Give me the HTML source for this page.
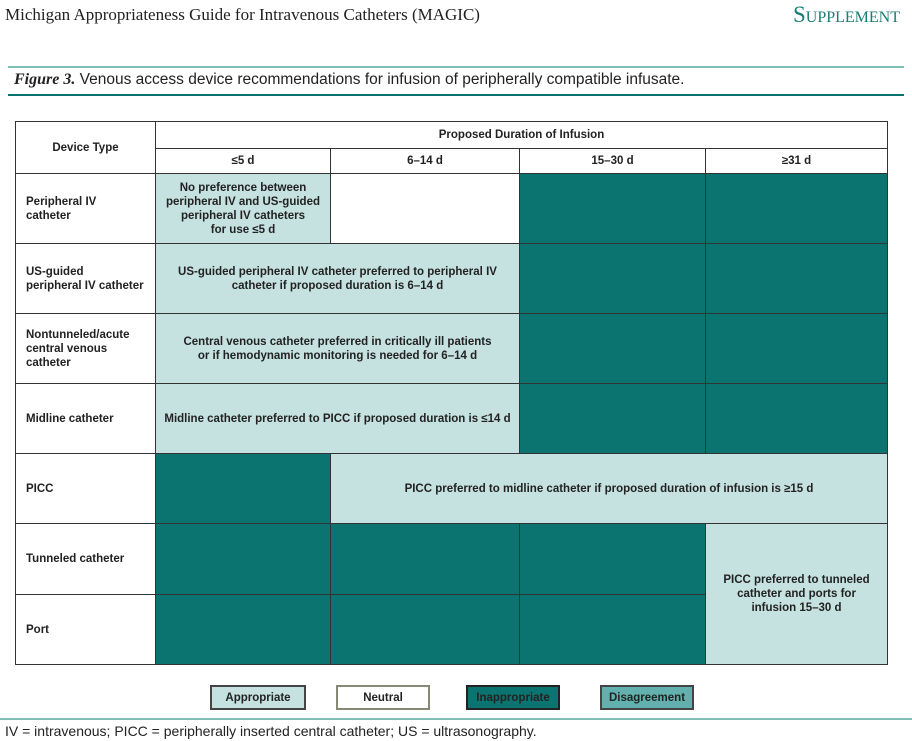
<!DOCTYPE html>
<html><head><meta charset="utf-8"><style>
body{margin:0;width:912px;height:741px;background:#fff;position:relative;overflow:hidden;font-family:"Liberation Sans",sans-serif}
.a{position:absolute;box-sizing:border-box}
.c{position:absolute;box-sizing:border-box;border:1px solid #333;display:flex;align-items:center;justify-content:center;text-align:center;font-size:11.5px;font-weight:bold;color:#222;line-height:14px}
.L{justify-content:flex-start;text-align:left;padding-left:10px}
.ap{background:#c5e2e0}.in{background:#0b7470}.ne{background:#fff}
</style></head><body>
<div class="a" style="left:5px;top:5px;font-family:'Liberation Serif',serif;font-size:17px;color:#222">Michigan Appropriateness Guide for Intravenous Catheters (MAGIC)</div>
<div class="a" style="right:12px;top:2px;font-family:'Liberation Serif',serif;font-size:23px;color:#1a7d73;font-variant:small-caps">Supplement</div>
<div class="a" style="left:8px;top:66px;width:896px;height:2px;background:#7fbfb8"></div>
<div class="a" style="left:14px;top:71px;font-size:15.5px;color:#222;white-space:nowrap"><i style="font-family:'Liberation Serif',serif;font-weight:bold;font-size:16px">Figure 3.</i> Venous access device recommendations for infusion of peripherally compatible infusate.</div>
<div class="a" style="left:8px;top:94px;width:896px;height:2px;background:#0b7470"></div>
<div id="t"></div>
<div class="c ap" style="left:210px;top:685px;width:96px;height:25px;border:2px solid #444">Appropriate</div>
<div class="c ne" style="left:336px;top:685px;width:94px;height:25px;border:2px solid #887">Neutral</div>
<div class="c" style="left:466px;top:685px;width:94px;height:25px;border:2px solid #222;background:#0b7470">Inappropriate</div>
<div class="c" style="left:600px;top:685px;width:94px;height:25px;border:2px solid #444;background:#62b1ae">Disagreement</div>
<div class="a" style="left:0;top:718px;width:912px;height:2px;background:#7fbfb8"></div>
<div class="a" style="left:5px;top:723px;font-size:14px;color:#222;white-space:nowrap">IV = intravenous; PICC = peripherally inserted central catheter; US = ultrasonography.</div>
<script>
const cols=[15,155,330,519,705,887];
const rows=[173,243,313,383,453,523,594,664];
const rowLabels=["Peripheral IV<br>catheter","US-guided<br>peripheral IV catheter","Nontunneled/acute<br>central venous<br>catheter","Midline catheter","PICC","Tunneled catheter","Port"];
const durations=["≤5 d","6–14 d","15–30 d","≥31 d"];
// cells: [row, colStart, colEnd, rowEnd, class, text]
const cells=[
[0,1,2,1,"ap","No preference between<br>peripheral IV and US-guided<br>peripheral IV catheters<br>for use ≤5 d"],
[0,2,3,1,"ne",""],[0,3,4,1,"in",""],[0,4,5,1,"in",""],
[1,1,3,2,"ap","US-guided peripheral IV catheter preferred to peripheral IV<br>catheter if proposed duration is 6–14 d"],
[1,3,4,2,"in",""],[1,4,5,2,"in",""],
[2,1,3,3,"ap","Central venous catheter preferred in critically ill patients<br>or if hemodynamic monitoring is needed for 6–14 d"],
[2,3,4,3,"in",""],[2,4,5,3,"in",""],
[3,1,3,4,"ap","Midline catheter preferred to PICC if proposed duration is ≤14 d"],
[3,3,4,4,"in",""],[3,4,5,4,"in",""],
[4,1,2,5,"in",""],[4,2,5,5,"ap","PICC preferred to midline catheter if proposed duration of infusion is ≥15 d"],
[5,1,2,6,"in",""],[5,2,3,6,"in",""],[5,3,4,6,"in",""],
[6,1,2,7,"in",""],[6,2,3,7,"in",""],[6,3,4,7,"in",""],
[5,4,5,7,"ap","PICC preferred to tunneled<br>catheter and ports for<br>infusion 15–30 d"]
];
const t=document.getElementById('t');
function box(x,y,w,h,cls,html,name){const d=document.createElement('div');d.className='c '+cls;d.style.cssText=`left:${x}px;top:${y}px;width:${w+1}px;height:${h+1}px`;d.innerHTML=html;


t.appendChild(d);}
box(15,121,140,52,"","Device Type","device-type-header");
box(155,121,732,27,"","Proposed Duration of Infusion","duration-header");
durations.forEach((s,i)=>box(cols[i+1],148,cols[i+2]-cols[i+1],25,"",s,"duration-"+i));
rowLabels.forEach((s,i)=>box(15,rows[i],140,rows[i+1]-rows[i],"L",s,"row-label-"+i));
cells.forEach((c,i)=>box(cols[c[1]],rows[c[0]],cols[c[2]]-cols[c[1]],rows[c[3]]-rows[c[0]],c[4],c[5],"cell-"+i));
</script>
</body></html>
